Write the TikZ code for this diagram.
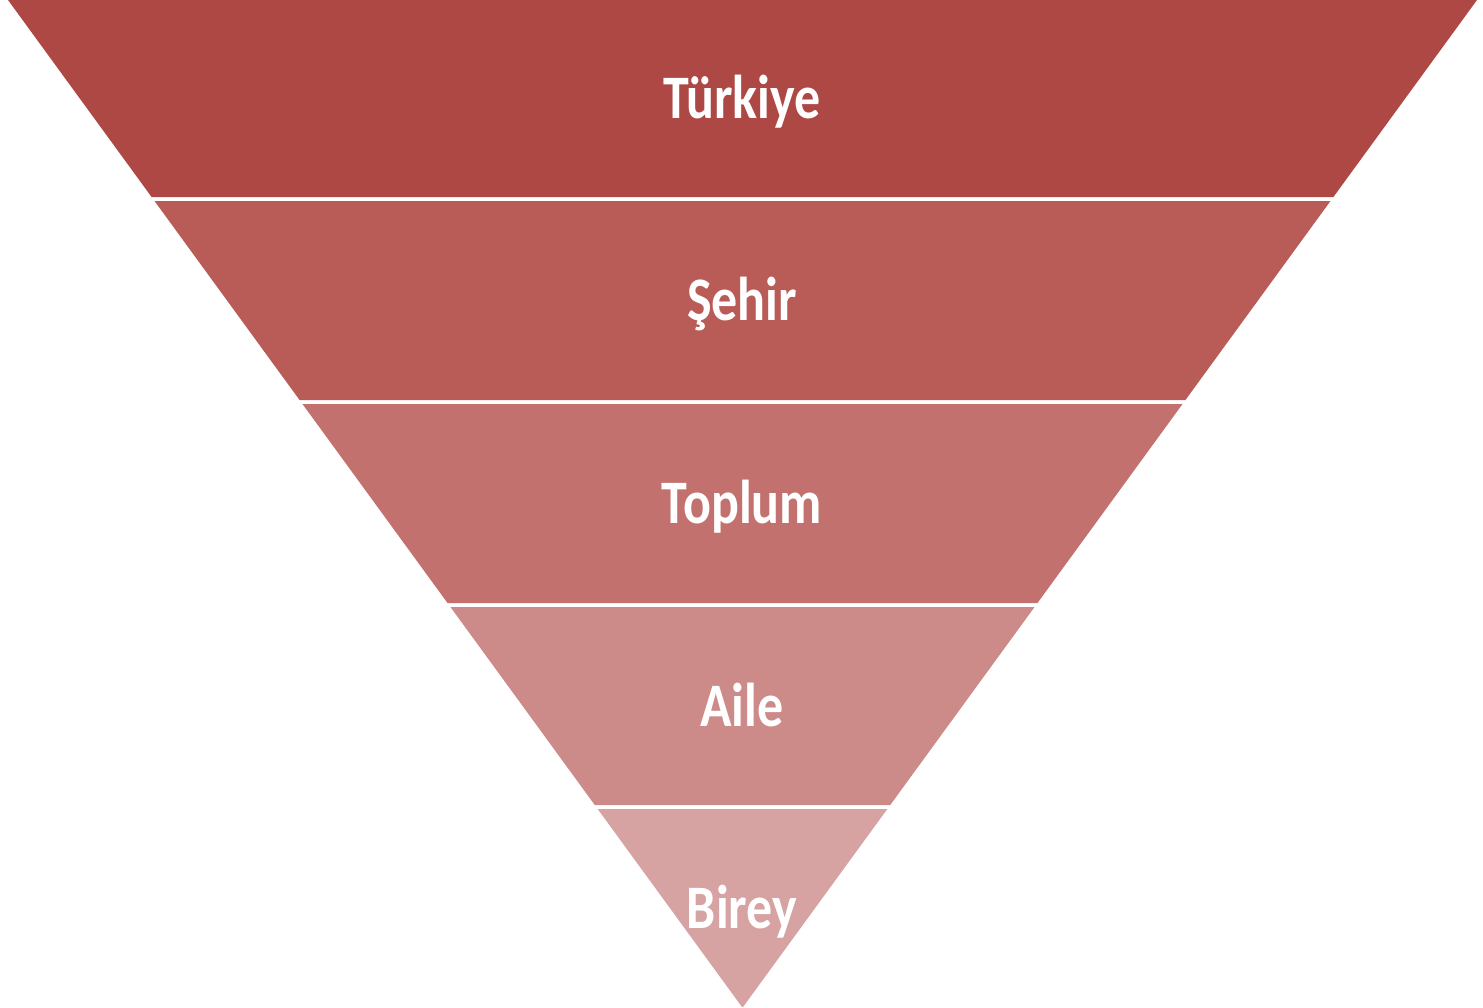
\documentclass[tikz,border=0pt]{standalone}
\usepackage{fontspec}
\setmainfont{Carlito}
\definecolor{pyrA}{HTML}{AD4845}
\definecolor{pyrB}{HTML}{B95B57}
\definecolor{pyrC}{HTML}{C3716E}
\definecolor{pyrD}{HTML}{CC8A88}
\definecolor{pyrE}{HTML}{D6A2A2}

\begin{document}
\begin{tikzpicture}[
  x=1pt, y=-1pt,
  band/.style={fill=#1, draw=none},
  lbl/.style={text=white, font=\fontsize{52}{62}\selectfont\bfseries, yscale=1.19, anchor=base, inner sep=0pt},
]
\useasboundingbox (0,0) rectangle (1483,1007);
\foreach \name/\col/\ytop/\ybot/\txt in {tur/pyrA/0/197/Türkiye, seh/pyrB/201/400/Şehir, topl/pyrC/404/603/Toplum, ail/pyrD/607/805/Aile, bir/pyrE/809/1007/Birey}{
  \fill[band=\col] (8+0.7289*\ytop, \ytop) -- (1477-0.7289*\ytop, \ytop) -- (1477-0.7289*\ybot, \ybot) -- (8+0.7289*\ybot, \ybot) -- cycle;
  \node[lbl] (\name) at (742, {(\ytop+\ybot)/2+20}) {\txt};
}
\end{tikzpicture}
\end{document}
